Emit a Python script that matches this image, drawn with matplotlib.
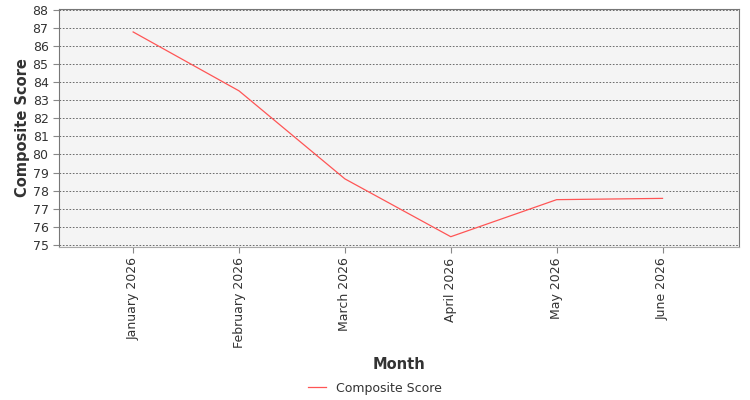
import matplotlib
matplotlib.use('Agg')
import matplotlib.pyplot as plt

# Data
months = ['January 2026', 'February 2026', 'March 2026', 'April 2026', 'May 2026', 'June 2026']
composite_score = [86.78, 83.52, 78.65, 75.45, 77.5, 77.57]
y_ticks = list(range(75, 89))

fig = plt.figure(figsize=(7.5, 4), dpi=100)
ax = fig.add_axes([0.0787, 0.3825, 0.9063, 0.595])
ax.set_facecolor('#f4f4f4')

x = list(range(len(months)))
ax.plot(x, composite_score, color='#ff5555', linewidth=0.9, label='Composite Score')

ax.set_xlim(-0.7, len(months) - 0.28)
ax.set_ylim(74.88, 88.05)
ax.set_yticks(y_ticks)
ax.set_xticks(x)
ax.set_xticklabels(months, rotation=90)
ax.tick_params(axis='both', labelsize=9, length=4, color='#888888', labelcolor='#333333')

ax.grid(axis='y', linestyle=(0, (2, 2)), color='#555555', linewidth=0.6)
ax.set_axisbelow(True)

for side in ['left', 'top', 'right', 'bottom']:
    ax.spines[side].set_color('#777777')
    ax.spines[side].set_linewidth(0.8)
ax.spines['bottom'].set_color('#aaaaaa')

ax.set_ylabel('Composite Score', fontsize=10.5, fontweight='bold', color='#333333', labelpad=2)
ax.set_xlabel('Month', fontsize=10.5, fontweight='bold', color='#333333', labelpad=6)

fig.legend(loc='lower center', bbox_to_anchor=(0.5, -0.015), frameon=False, fontsize=9,
           handlelength=1.5, labelcolor='#333333')

plt.savefig('out.png', dpi=100)
